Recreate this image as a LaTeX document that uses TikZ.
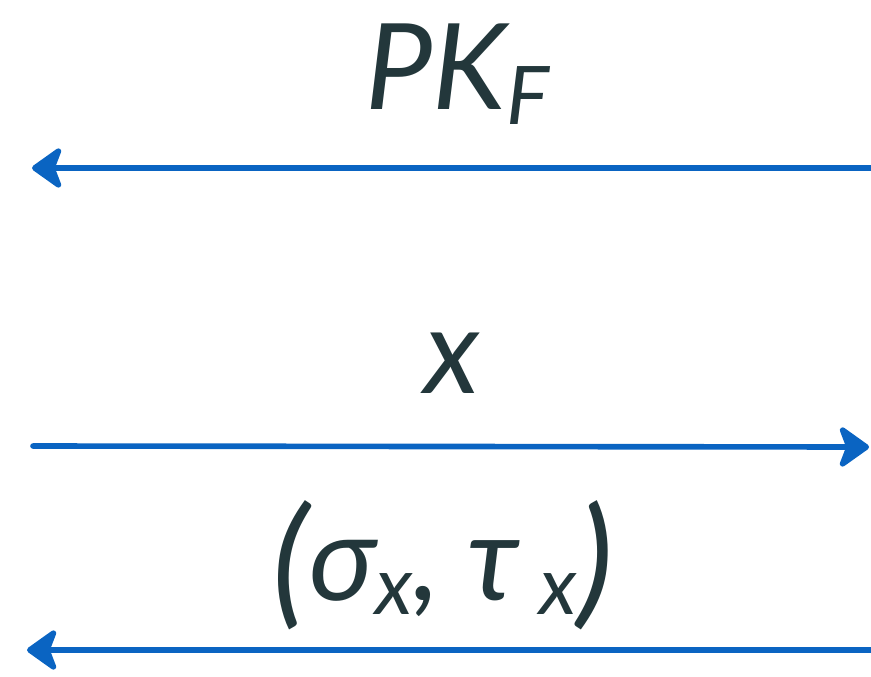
\documentclass[tikz,border=0pt]{standalone}
\usepackage{fontspec}
\setmainfont{Lato}
\usetikzlibrary{arrows.meta}
\definecolor{msgblue}{HTML}{0A64C2}
\definecolor{inkdark}{HTML}{23373B}
\newcommand{\bigtxt}{\fontsize{34}{40}\selectfont\itshape}
\newcommand{\lowsub}[1]{\raisebox{-0.12em}{\fontsize{23}{26}\selectfont #1}}
\newcommand{\bigparen}[1]{\raisebox{-0.08em}{\fontsize{40}{44}\selectfont #1}}

\begin{document}
\begin{tikzpicture}[x=0.01cm, y=-0.01cm,
  msg/.style={draw=msgblue, line width=1.6pt, line cap=round,
    -{Stealth[length=3.4mm, width=4.8mm, inset=0.9mm, round]}},
  msglabel/.style={inner sep=0pt, anchor=base, text=inkdark, font=\bigtxt}]
  \useasboundingbox (0,0) rectangle (871,676);
  % messages
  \node[msglabel] (pk) at (457,110) {PK\lowsub{F}};
  \node[msglabel] (xval) at (452,393) {x};
  \node[msglabel] (sig) at (443,600) {\bigparen{(}σ\lowsub{x}, τ\,\lowsub{x}\bigparen{)}};
  % arrows
  \coordinate (a1s) at (871,168);
  \coordinate (a1e) at (32,168);
  \coordinate (a2s) at (33,446);
  \coordinate (a2e) at (869,447);
  \coordinate (a3s) at (871,650);
  \coordinate (a3e) at (27,650);
  \draw[msg] (a1s) -- (a1e);
  \draw[msg] (a2s) -- (a2e);
  \draw[msg] (a3s) -- (a3e);
\end{tikzpicture}
\end{document}
